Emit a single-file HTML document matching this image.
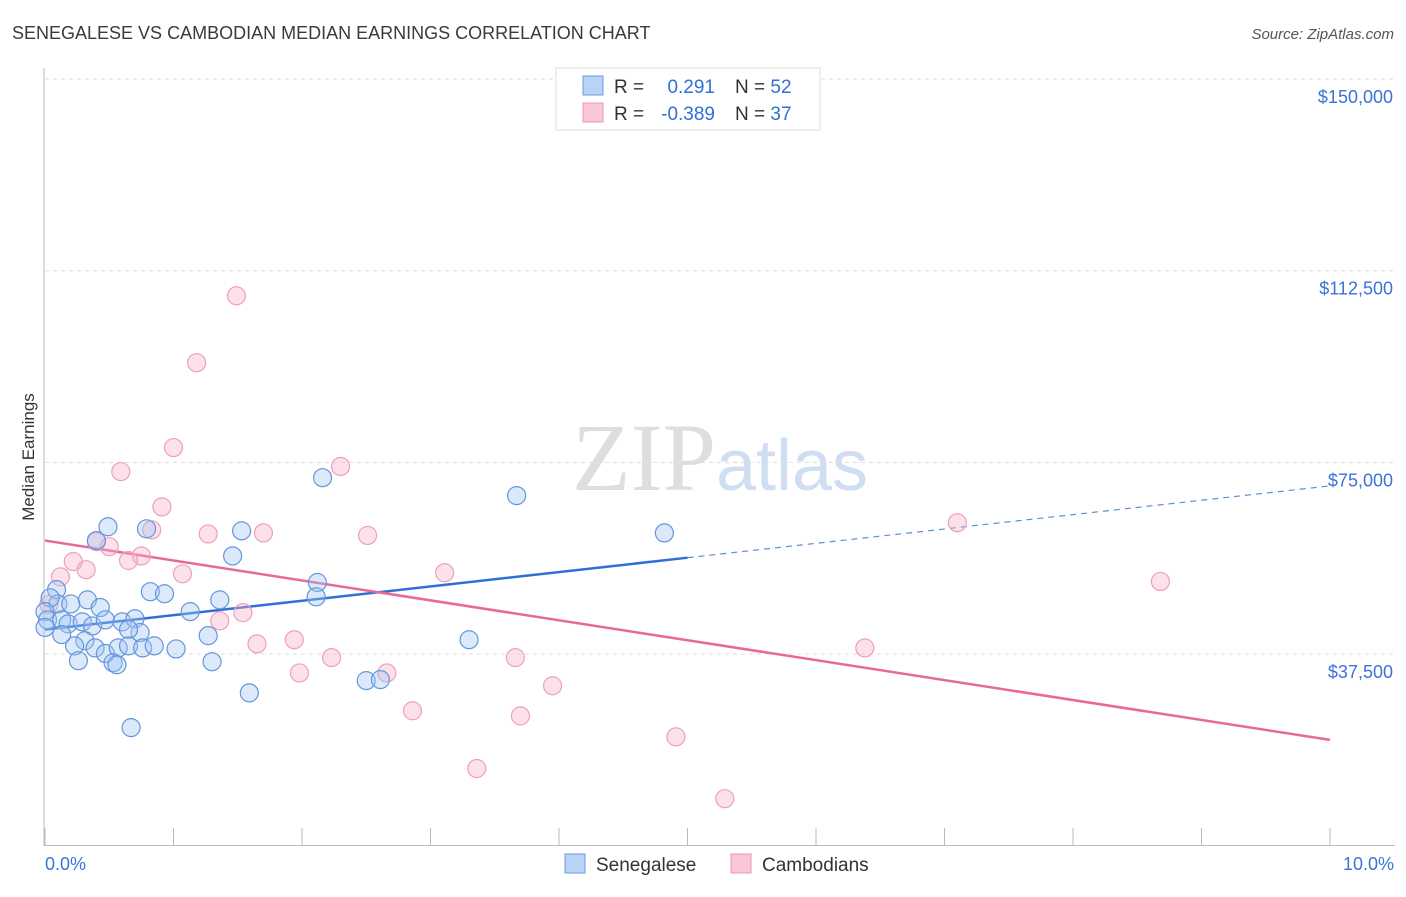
<!DOCTYPE html>
<html><head><meta charset="utf-8"><style>
body{margin:0;background:#fff;font-family:"Liberation Sans",sans-serif;}
svg text{font-family:"Liberation Sans",sans-serif;}
</style></head><body>
<svg id="chart" width="1406" height="892" viewBox="0 0 1406 892">
<text x="12" y="39" font-size="18" fill="#3a3a3a">SENEGALESE VS CAMBODIAN MEDIAN EARNINGS CORRELATION CHART</text>
<text x="1394" y="39" font-size="15" fill="#555" font-style="italic" text-anchor="end">Source: ZipAtlas.com</text>
<text x="720" y="490" font-size="96" text-anchor="middle"><tspan fill="#dedede" font-family="Liberation Serif">ZIP</tspan><tspan fill="#d0def3" font-size="72">atlas</tspan></text>
<g id="grid"></g>
<line x1="44" y1="68" x2="44" y2="846" stroke="#bbb"/>
<line x1="44" y1="845.5" x2="1395" y2="845.5" stroke="#bbb"/>
<g id="xticks"></g>
<text transform="translate(34,457) rotate(-90)" font-size="17" fill="#333" text-anchor="middle">Median Earnings</text>
<text x="45" y="870" font-size="18" fill="#3b73d6">0.0%</text>
<text x="1394" y="870" font-size="18" fill="#3b73d6" text-anchor="end">10.0%</text>
<g id="trend"></g>
<g id="points"></g>
<g>
<rect x="556" y="68" width="264" height="62" fill="#fff" stroke="#ddd"/>
<rect x="583" y="76" width="20" height="19" fill="#b9d3f6" stroke="#6a9be0"/>
<rect x="583" y="103" width="20" height="19" fill="#f9c6d5" stroke="#ec97b0"/>
<text x="614" y="93" font-size="19" fill="#333">R =</text>
<text x="715" y="93" font-size="19" fill="#2f6fd6" text-anchor="end">0.291</text>
<text x="735" y="93" font-size="19" fill="#333">N = <tspan fill="#2f6fd6">52</tspan></text>
<text x="614" y="120" font-size="19" fill="#333">R =</text>
<text x="715" y="120" font-size="19" fill="#2f6fd6" text-anchor="end">-0.389</text>
<text x="735" y="120" font-size="19" fill="#333">N = <tspan fill="#2f6fd6">37</tspan></text>
</g>
<g>
<rect x="565" y="854" width="20" height="19" fill="#b9d3f6" stroke="#6a9be0"/>
<text x="596" y="871" font-size="19" fill="#333">Senegalese</text>
<rect x="731" y="854" width="20" height="19" fill="#f9c6d5" stroke="#ec97b0"/>
<text x="762" y="871" font-size="19" fill="#333">Cambodians</text>
</g>
</svg>
<script>
const yTicks=[37500,75000,112500,150000];
const yTickLabels=["$37,500","$75,000","$112,500","$150,000"];
const xTickValues=[0,1,2,3,4,5,6,7,8,9,10];
const senX=[0.49,0.79,1.53,1.46,0.40,2.16,3.67,4.82,0.09,0.33,0.82,0.93,0.10,0.20,0.43,0.04,0.0,0.02,0.13,0.18,0.29,0.37,0.47,0.60,0.70,1.13,1.36,2.12,2.11,0.74,0.65,1.27,0.31,0.23,0.39,0.47,0.57,0.65,0.76,0.85,1.02,0.53,0.56,0.26,1.30,3.30,2.50,2.61,1.59,0.67,0.13,0.0];
const senY=[62.4,62.0,61.6,56.7,59.7,72.0,68.5,61.2,50.1,48.1,49.7,49.3,47.3,47.3,46.6,48.5,45.8,44.2,44.2,43.4,43.8,43.0,44.2,43.8,44.4,45.8,48.1,51.5,48.7,41.7,42.3,41.1,40.1,39.1,38.7,37.6,38.7,39.1,38.7,39.1,38.5,35.8,35.4,36.2,36.0,40.3,32.3,32.5,29.9,23.1,41.3,42.7];
const camX=[1.49,1.18,1.00,2.30,0.59,0.91,0.83,0.40,0.50,0.75,0.65,0.22,0.32,0.12,1.07,1.27,1.70,2.51,3.11,7.10,8.68,0.03,1.36,1.54,1.65,1.94,2.23,1.98,2.66,3.66,3.95,2.86,3.70,4.91,3.36,5.29,6.38];
const camY=[107.6,94.5,77.9,74.2,73.2,66.3,61.8,59.5,58.5,56.7,55.8,55.6,54.0,52.6,53.2,61.0,61.2,60.7,53.4,63.2,51.7,47.2,44.0,45.6,39.5,40.3,36.8,33.8,33.8,36.8,31.3,26.4,25.4,21.3,15.1,9.2,38.7];
const senTrend=[42.3,70.4];
const senSolidEnd=5.0;
const camTrend=[59.7,20.7];
const NS="http://www.w3.org/2000/svg";
const X=v=>45+v*128.5;
const Y=v=>845.7-v*5.111;
function mk(t,a,p){const e=document.createElementNS(NS,t);for(const k in a)e.setAttribute(k,a[k]);p.appendChild(e);return e;}
const grid=document.getElementById('grid');
yTicks.forEach((t,i)=>{
 const l=mk('line',{x1:45,x2:1395,y1:Y(t/1000),y2:Y(t/1000),stroke:'#ddd','stroke-dasharray':'4,4'},grid);
 
 
 const tx=mk('text',{x:1393,y:Y(t/1000)+24,'font-size':18,fill:'#3b73d6','text-anchor':'end'},grid);
 tx.textContent=yTickLabels[i];
 
 
});
const xt=document.getElementById('xticks');
xTickValues.forEach(v=>{
 const l=mk('line',{x1:X(v),x2:X(v),y1:828,y2:845,stroke:'#bbb'},xt);
 
 
});
const tr=document.getElementById('trend');
let l1=mk('line',{x1:X(0),y1:Y(senTrend[0]),x2:X(senSolidEnd),y2:Y(senTrend[0]+(senTrend[1]-senTrend[0])*senSolidEnd/10),stroke:'#2f6fd6','stroke-width':2.5},tr);


let l2=mk('line',{x1:X(senSolidEnd),y1:Y(senTrend[0]+(senTrend[1]-senTrend[0])*senSolidEnd/10),x2:X(10),y2:Y(senTrend[1]),stroke:'#5b8fd8','stroke-width':1.2,'stroke-dasharray':'6,5'},tr);


let l3=mk('line',{x1:X(0),y1:Y(camTrend[0]),x2:X(10),y2:Y(camTrend[1]),stroke:'#e8689a','stroke-width':2.5},tr);


const pts=document.getElementById('points');
camX.forEach((x,i)=>{
 const c=mk('circle',{cx:X(x),cy:Y(camY[i]),r:9,fill:'rgba(246,176,199,0.38)',stroke:'#eea0b8','stroke-width':1.2},pts);
 
 
});
senX.forEach((x,i)=>{
 const c=mk('circle',{cx:X(x),cy:Y(senY[i]),r:9,fill:'rgba(160,196,242,0.38)',stroke:'#6496dc','stroke-width':1.2},pts);
 
 
});
</script>
</body></html>
